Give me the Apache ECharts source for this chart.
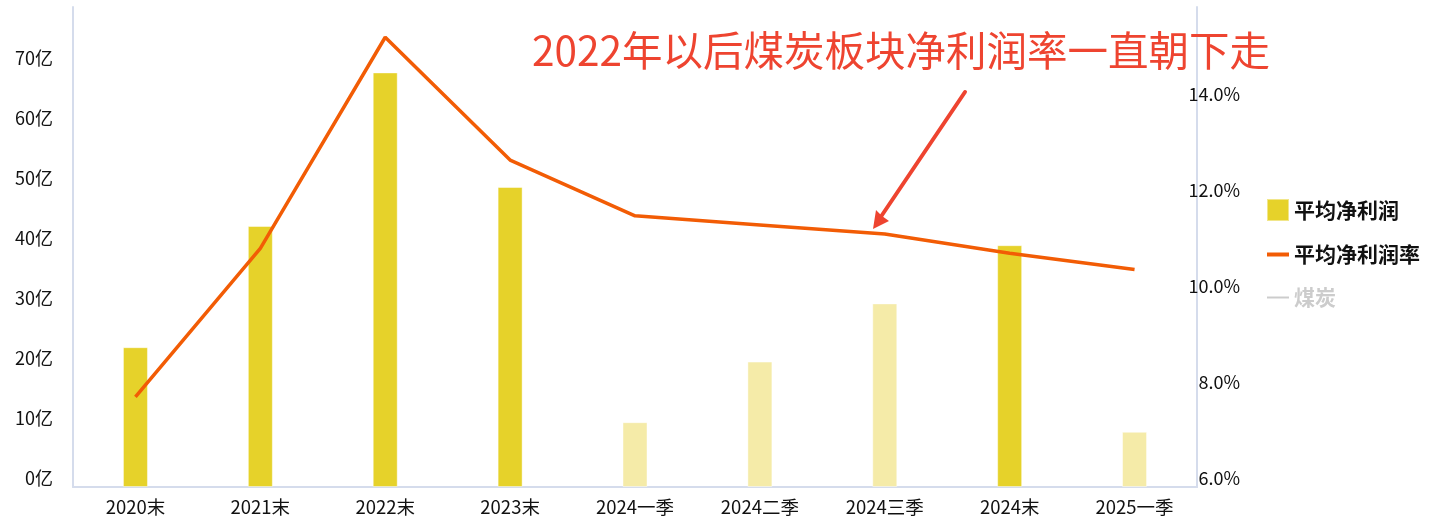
<!DOCTYPE html>
<html>
<head>
<meta charset="utf-8">
<script src="https://cdn.jsdelivr.net/npm/echarts@6/dist/echarts.min.js"></script>
<style>
  html, body { margin: 0; padding: 0; background: #fff; }
  #containerg { width: 1437px; height: 523px; }
</style>
</head>
<body>
<div id="containerg"></div>
<script>
var categories = ['2020末', '2021末', '2022末', '2023末', '2024一季', '2024二季', '2024三季', '2024末', '2025一季'];
// 平均净利润, 亿
var profit = [23.3, 43.5, 69.1, 50.0, 10.8, 20.9, 30.6, 40.3, 9.2];
// 平均净利润率, %
var margin = [7.88, 10.97, 15.37, 12.81, 11.65, 11.46, 11.27, 10.87, 10.53];
var coal = [];

var legendNames = ['平均净利润', '平均净利润率', '煤炭'];
var note = '2022年以后煤炭板块净利润率一直朝下走';

var font = 'Noto Sans CJK SC';
var dark = '#e6d22a';
var light = '#f5eba8';
var orange = '#f25c05';
var red = '#ee4430';

function armagrafico() {
    var dom = document.getElementById('containerg');
    var myChart = echarts.init(dom);

    // 季度的柱子用浅色
    var barData = profit.map(function (v, i) {
        var quarter = categories[i].indexOf('季') >= 0;
        return {
            value: v,
            itemStyle: { color: quarter ? light : dark }
        };
    });

    var option = {
        animation: false,
        textStyle: { fontFamily: font },
        grid: { left: 73, right: 240, top: 7, bottom: 36, containLabel: false },
        legend: {
            orient: 'vertical',
            left: 1261,
            top: 193,
            itemWidth: 22,
            itemHeight: 22,
            itemGap: 22,
            symbolKeepAspect: true,
            data: [
                { name: legendNames[0], icon: 'rect' },
                { name: legendNames[1], icon: 'path://M0,0 L22,0 L22,4 L0,4 Z' },
                { name: legendNames[2], icon: 'path://M0,0 L22,0 L22,2 L0,2 Z' }
            ],
            selected: { '煤炭': false },
            inactiveColor: '#cccccc',
            textStyle: { fontSize: 21, fontWeight: 'bold', color: '#111', fontFamily: font }
        },
        xAxis: {
            type: 'category',
            data: categories,
            axisLine: { lineStyle: { color: '#d5dcec', width: 2 } },
            axisTick: { show: false },
            axisLabel: { fontSize: 18.5, color: '#111', margin: 11, interval: 0 }
        },
        yAxis: [{
            type: 'value',
            min: 0,
            max: 80,
            interval: 10,
            axisLine: { show: true, lineStyle: { color: '#d5dcec', width: 2 } },
            axisTick: { show: false },
            splitLine: { show: false },
            axisLabel: {
                fontSize: 18, color: '#111', margin: 20,
                verticalAlign: 'bottom', showMaxLabel: false,
                formatter: function (v) { return v + '亿'; }
            }
        }, {
            type: 'value',
            min: 6,
            max: 16,
            interval: 2,
            position: 'right',
            axisLine: { show: true, lineStyle: { color: '#d5dcec', width: 2 } },
            axisTick: { show: false },
            splitLine: { show: false },
            axisLabel: {
                fontSize: 18, color: '#111', margin: 43, align: 'right',
                verticalAlign: 'bottom', showMaxLabel: false,
                formatter: function (v) { return v.toFixed(1) + '%'; }
            }
        }],
        series: [{
            name: legendNames[0],
            type: 'bar',
            barWidth: 25,
            itemStyle: { color: dark, borderColor: 'rgba(255,255,255,0.45)', borderWidth: 1 },
            data: barData
        }, {
            name: legendNames[1],
            type: 'line',
            yAxisIndex: 1,
            symbol: 'none',
            z: 5,
            itemStyle: { color: orange },
            lineStyle: { color: orange, width: 3.5 },
            data: margin
        }, {
            name: legendNames[2],
            type: 'line',
            yAxisIndex: 1,
            symbol: 'none',
            itemStyle: { color: '#999' },
            lineStyle: { color: '#999', width: 2 },
            data: coal
        }],
        graphic: [{
            type: 'text',
            left: 532,
            top: 30,
            z: 10,
            style: { text: note, fill: red, fontSize: 40.5, fontFamily: font }
        }, {
            type: 'polyline',
            z: 10,
            shape: { points: [[965, 92], [876, 224]] },
            style: { stroke: red, lineWidth: 4, lineCap: 'round', fill: null }
        }, {
            type: 'polygon',
            z: 10,
            shape: { points: [[873, 229], [876, 210], [882, 216], [889, 221]] },
            style: { fill: red }
        }]
    };

    if (option && typeof option === 'object') {
        myChart.setOption(option);
    }
}

armagrafico();
</script>
</body>
</html>
